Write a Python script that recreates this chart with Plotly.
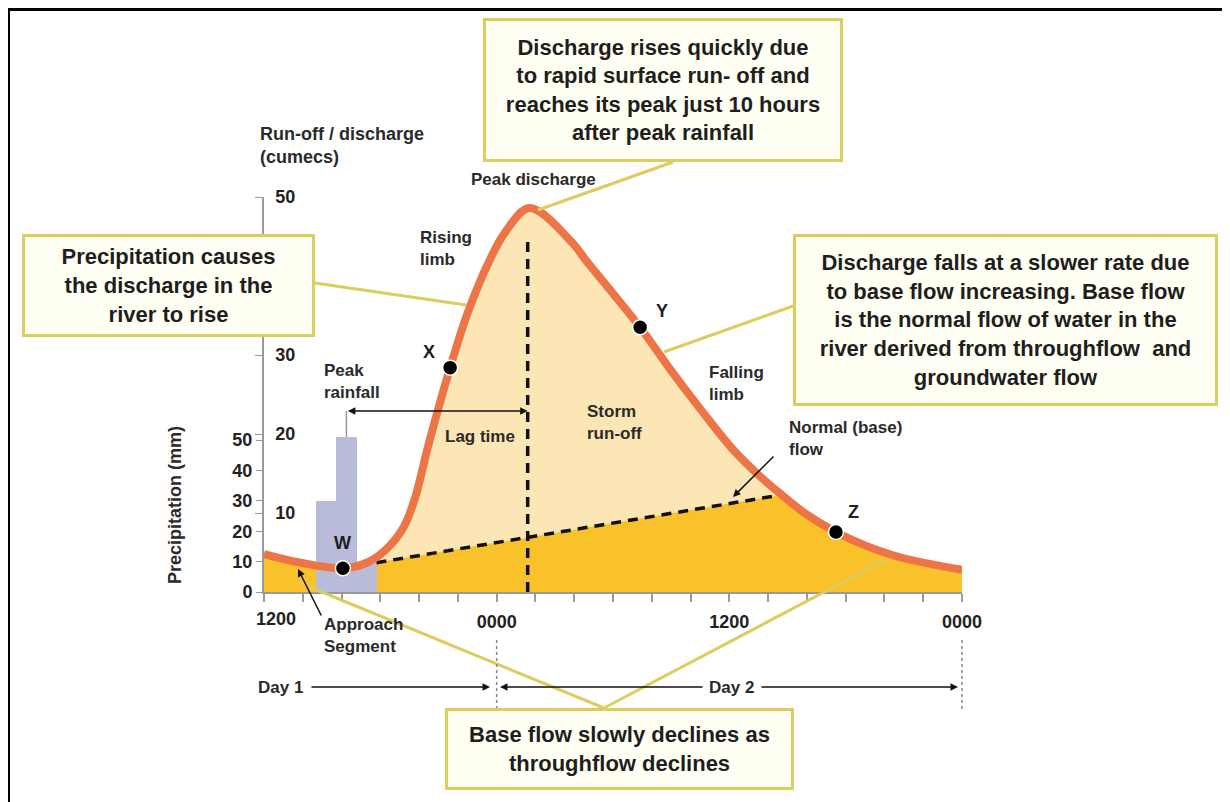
import plotly.graph_objects as go

# ---------------- data ----------------
hours = [0.0, 1.9, 4.07, 5.3, 6.3, 7.2, 7.8, 8.5, 9.6, 10.5, 11.6, 12.4, 13.7,
         15.9, 16.6, 19.4, 20.8, 22.4, 24.2, 25.6, 26.7, 28.0, 29.5, 31.0, 32.8, 36.0]
discharge = [4.8, 3.7, 3.0, 3.7, 5.4, 8.2, 12.0, 18.8, 28.4, 35.3, 41.8, 45.4, 48.6,
             44.2, 42.0, 33.5, 28.7, 23.5, 18.0, 14.6, 12.3, 9.8, 7.6, 5.9, 4.4, 2.8]

base_hours = [4.07, 26.7]
base_flow = [3.0, 12.3]

rain_hours = [3.2, 4.25, 5.3]
rain_mm = [30, 51, 9.5]

point_names = ["W", "X", "Y", "Z"]
point_hours = [4.07, 9.6, 19.4, 29.5]
point_values = [3.0, 28.4, 33.5, 7.6]

peak_hour = 13.6
peak_marker_top = 45.0
lag_level = 22.9
rain_line_top = 59.5

tick_hours = [0, 12, 24, 36]
tick_text = ["1200", "0000", "1200", "0000"]
q_ticks = [10, 20, 30, 40, 50]
p_ticks = [0, 10, 20, 30, 40, 50]

# ---------------- styles / geometry ----------------
W_, H_ = 1230, 802
OFF = 8  # page body margin
# plot area in screen pixels: x 264..962, y 197..592
SL, SR, ST, SB = 264, 962, 197, 592
L, T = SL - OFF, ST - OFF
R, B = W_ - (SR - OFF), H_ - (SB - OFF)
PW, PH = SR - SL, SB - ST
FONT = "Liberation Sans, Arial, sans-serif"
PALE = "#FCE6B6"
GOLD = "#F9C22B"
CURVE = "#EC7446"
BAR = "#B9BCD8"
BOXLINE = "#DDCC5E"
BOXFILL = "#FFFFF3"
TXT = "#1E1E1E"


def px(x):
    return (x - SL) / PW


def py(y):
    return (SB - y) / PH


def curve_part(lo, hi, extra_after=True):
    xs, ys = [], []
    after = None
    for h, v in zip(hours, discharge):
        if lo <= h <= hi:
            xs.append(h)
            ys.append(v)
        elif h > hi and after is None:
            after = (h, v)
    if extra_after and after is not None:
        xs.append(after[0])
        ys.append(after[1])
    return xs, ys


fig = go.Figure()

# storm run-off (pale) under whole curve
fig.add_trace(go.Scatter(x=hours, y=discharge, mode="lines", line=dict(width=0, shape="spline"),
                         fill="tozeroy", fillcolor=PALE, yaxis="y", hoverinfo="skip"))
# base flow (gold): approach segment, base line, recession tail (overlapping slightly to avoid seams)
ax_, ay_ = curve_part(0, base_hours[0])
fig.add_trace(go.Scatter(x=ax_, y=ay_, mode="lines", line=dict(width=0, shape="spline"),
                         fill="tozeroy", fillcolor=GOLD, yaxis="y", hoverinfo="skip"))
nx_, ny_ = curve_part(base_hours[-1] + 1e-6, 99, extra_after=False)
fig.add_trace(go.Scatter(x=base_hours + nx_[:1], y=base_flow + ny_[:1], mode="lines", line=dict(width=0),
                         fill="tozeroy", fillcolor=GOLD, yaxis="y", hoverinfo="skip"))
tx_, ty_ = curve_part(base_hours[-1], 99, extra_after=False)
fig.add_trace(go.Scatter(x=tx_, y=ty_, mode="lines", line=dict(width=0, shape="spline"),
                         fill="tozeroy", fillcolor=GOLD, yaxis="y", hoverinfo="skip"))

# precipitation bars
fig.add_trace(go.Bar(x=rain_hours, y=rain_mm, width=1.05, marker=dict(color=BAR, line=dict(width=0)),
                     yaxis="y2", hoverinfo="skip"))
peak_rain_hour = rain_hours[rain_mm.index(max(rain_mm))]
fig.add_trace(go.Scatter(x=[peak_rain_hour, peak_rain_hour], y=[max(rain_mm), rain_line_top], mode="lines",
                         line=dict(color="#9A9A9A", width=1.5), yaxis="y2", hoverinfo="skip"))

# dashed lines
fig.add_trace(go.Scatter(x=[peak_hour, peak_hour], y=[0, peak_marker_top], mode="lines",
                         line=dict(color="#111", width=3.5, dash="10px,7px"), yaxis="y3", hoverinfo="skip"))
fig.add_trace(go.Scatter(x=base_hours, y=base_flow, mode="lines",
                         line=dict(color="#111", width=3.5, dash="10px,7px"), yaxis="y3", hoverinfo="skip"))

# hydrograph line
fig.add_trace(go.Scatter(x=hours, y=discharge, mode="lines", line=dict(color=CURVE, width=8, shape="spline"),
                         yaxis="y3", hoverinfo="skip"))
# points
fig.add_trace(go.Scatter(x=point_hours, y=point_values, mode="markers",
                         marker=dict(color="black", size=15, line=dict(color="white", width=1.5)),
                         yaxis="y3", cliponaxis=False, hoverinfo="skip"))

label_shift = [(0, 25), (-21, 16), (22, 16), (18, 20)]
annotations = []
for name, h, v, (dx, dy) in zip(point_names, point_hours, point_values, label_shift):
    annotations.append(dict(x=h, y=v, xref="x", yref="y", text="<b>%s</b>" % name, showarrow=False,
                            xshift=dx, yshift=dy, font=dict(family=FONT, size=18, color=TXT)))

# first x tick label (plotly hides it at the corner next to inside y labels)
annotations.append(dict(x=tick_hours[0], y=0, xref="x", yref="y", text="<b>%s</b>" % tick_text[0],
                        showarrow=False, xanchor="center", yanchor="top", xshift=12, yshift=-15,
                        font=dict(family=FONT, size=18, color="#222")))

# lag time arrow
annotations.append(dict(x=peak_hour, y=lag_level, xref="x", yref="y", ax=peak_rain_hour, ay=lag_level,
                        axref="x", ayref="y", text="", showarrow=True, arrowhead=2, startarrowhead=2,
                        arrowside="end+start", arrowsize=1, arrowwidth=1.5, arrowcolor="#111"))


def label(text, x, y, anchor="left", size=17, angle=0):
    annotations.append(dict(x=px(x), y=py(y), xref="paper", yref="paper", text="<b>%s</b>" % text,
                            showarrow=False, xanchor=anchor, yanchor="middle",
                            align=anchor if anchor != "center" else "center",
                            textangle=angle, font=dict(family=FONT, size=size, color="#2A2A2A")))


label("Run-off / discharge<br>(cumecs)", 258, 145, size=18)
label("Peak discharge", 533, 179, anchor="center")
label("Rising<br>limb", 418, 248)
label("Peak<br>rainfall", 322, 381)
label("Lag time", 480, 436, anchor="center")
label("Storm<br>run-off", 585, 422)
label("Falling<br>limb", 707, 383)
label("Normal (base)<br>flow", 787, 438)
label("Approach<br>Segment", 322, 635)
label("Day 1", 256, 687)
label("Day 2", 707, 687)
label("Precipitation (mm)", 175, 505, anchor="center", size=18, angle=-90)


def arrow(x_head, y_head, x_tail, y_tail):
    annotations.append(dict(x=px(x_head), y=py(y_head), xref="paper", yref="paper", text="",
                            showarrow=True, ax=x_tail - x_head, ay=y_tail - y_head, arrowhead=2,
                            arrowsize=1, arrowwidth=1.5, arrowcolor="#111"))


arrow(298, 569, 322, 617)
arrow(733, 497, 775, 455)
arrow(490, 687, 310, 687)
arrow(500, 687, 704, 687)
arrow(958, 687, 760, 687)


def box(x0, y0, x1, y1, text):
    bw = 3
    annotations.append(dict(x=px((x0 + x1) / 2), y=py((y0 + y1) / 2), xref="paper", yref="paper",
                            text="<b>%s</b>" % text, showarrow=False, xanchor="center", yanchor="middle",
                            width=x1 - x0 - 2 * bw, height=y1 - y0 - 2 * bw, borderpad=0, borderwidth=bw,
                            bordercolor=BOXLINE, bgcolor=BOXFILL, align="center", valign="middle",
                            font=dict(family=FONT, size=22, color=TXT)))


box(483, 18, 843, 162, "Discharge rises quickly due<br>to rapid surface run- off and<br>"
                       "reaches its peak just 10 hours<br>after peak rainfall")
box(22, 234, 315, 337, "Precipitation causes<br>the discharge in the<br>river to rise")
box(793, 234, 1218, 406, "Discharge falls at a slower rate due<br>to base flow increasing. Base flow<br>"
                         "is the normal flow of water in the<br>river derived from throughflow  and<br>groundwater flow")
box(445, 708, 794, 790, "Base flow slowly declines as<br>throughflow declines")

shapes = []


def seg(x0, y0, x1, y1, color=BOXLINE, width=3, dash="solid"):
    shapes.append(dict(type="line", xref="paper", yref="paper", x0=px(x0), y0=py(y0), x1=px(x1), y1=py(y1),
                       line=dict(color=color, width=width, dash=dash), layer="above"))


seg(673, 162, 538, 210)
seg(315, 283, 466, 305)
seg(793, 306, 664, 352)
seg(604, 708, 300, 583)
seg(604, 708, 885, 560)
# day separators
for h in [12, 36]:
    shapes.append(dict(type="line", xref="paper", yref="paper", x0=h / 36, x1=h / 36, y0=py(640), y1=py(712),
                       line=dict(color="#888", width=1.5, dash="dot")))
# frame
seg(8, 9, 1240, 9, color="black", width=4)
seg(8, 9, 8, 810, color="black", width=4)

tickfont = dict(family=FONT, size=18, color="#222", weight="bold")
fig.update_layout(
    width=W_, height=H_,
    margin=dict(l=L, r=R, t=T, b=B, autoexpand=False),
    paper_bgcolor="white", plot_bgcolor="white", showlegend=False,
    xaxis=dict(range=[0, 36], tickvals=tick_hours[1:], ticktext=tick_text[1:], ticks="outside", ticklen=8,
               tickcolor="#999", tickwidth=1.5, showline=True, linecolor="#999", linewidth=2,
               showgrid=False, zeroline=False, tickfont=tickfont, ticklabelstandoff=4,
               minor=dict(dtick=2, tick0=0, ticks="outside", ticklen=8, tickcolor="#999", tickwidth=1.5)),
    yaxis=dict(range=[0, 50], tickvals=q_ticks, ticks="outside", ticklen=7, tickcolor="#999",
               ticklabelposition="inside", ticklabelstandoff=12, ticklabeloverflow="allow", showline=True,
               linecolor="#999", linewidth=1.5, showgrid=False, zeroline=False, tickfont=tickfont),
    yaxis2=dict(range=[0, PH / 3.04], overlaying="y", side="left", tickvals=p_ticks, ticks="outside",
                ticklen=7, tickcolor="#999", showline=False, showgrid=False, zeroline=False, tickfont=tickfont),
    yaxis3=dict(range=[0, 50], overlaying="y", visible=False),
    annotations=annotations,
    shapes=shapes,
    bargap=0,
)

fig.write_html("out.html")
